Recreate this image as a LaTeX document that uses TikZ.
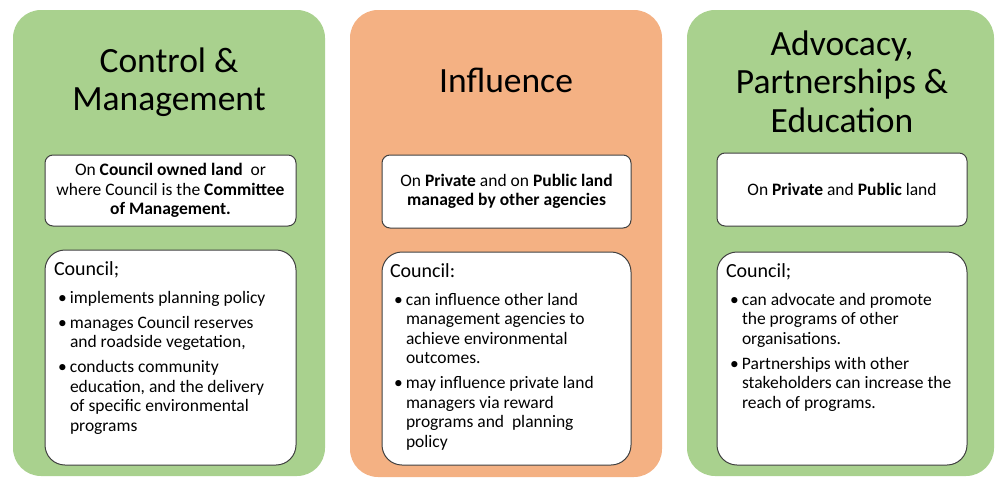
\documentclass[tikz,border=0pt]{standalone}
\usepackage{fontspec}
\setmainfont{Carlito}
\definecolor{panelgreen}{HTML}{A9D18E}
\definecolor{panelorange}{HTML}{F4B183}
\definecolor{boxline}{HTML}{404040}
\newcommand\bitem[1]{\par\vspace{5.5pt}\hangindent=16pt\hangafter=1\noindent\hspace*{4pt}\makebox[12pt][l]{\textbullet}#1}
\newcommand\councillist[2]{\vtop{\hsize=235pt\raggedright\parindent=0pt\fontsize{17.5}{19.5}\selectfont
{\fontsize{20}{19.5}\selectfont #1}\par\vspace{3pt}#2}}
\newcommand\titletext[1]{\vtop{\hsize=300pt\centering\fontsize{35.5}{38.5}\selectfont #1\par}}
\begin{document}
\begin{tikzpicture}[x=1pt,y=-1pt,
  panel/.style={rounded corners=28pt, inner sep=0pt, outer sep=0pt, anchor=north west, draw=none},
  hdrbox/.style={rounded corners=8pt, draw=boxline, line width=1pt, fill=white, inner sep=0pt, outer sep=0pt,
     align=center, font=\fontsize{17.5}{19.5}\selectfont},
  cbox/.style={rounded corners=20pt, draw=boxline, line width=1pt, fill=white, inner sep=0pt, outer sep=0pt, anchor=north west},
  txt/.style={inner sep=0pt, outer sep=0pt, anchor=base west},
  ttl/.style={inner sep=0pt, outer sep=0pt, anchor=base}
]
\useasboundingbox (0,0) rectangle (995,479);
% panels
\node[panel, fill=panelgreen, minimum width=312pt, minimum height=466pt] (p1) at (13,10) {};
\node[panel, fill=panelorange, minimum width=312pt, minimum height=467pt] (p2) at (350,10) {};
\node[panel, fill=panelgreen, minimum width=307pt, minimum height=466pt] (p3) at (687,10) {};
% titles
\node[ttl] (t1) at (169,72) {\titletext{Control \&\par Management}};
\node[ttl] (t2) at (506,92) {\titletext{Influence}};
\node[ttl] (t3) at (842,55) {\titletext{Advocacy,\par Partnerships \&\par Education}};
% header boxes
\node[hdrbox, minimum width=251pt, minimum height=71pt] (h1) at (170.5,190.5)
  {On \textbf{Council owned land}~ or\\ where Council is the \textbf{Committee}\\ \textbf{of Management.}};
\node[hdrbox, minimum width=249pt, minimum height=73pt] (h2) at (506.5,191.5)
  {On \textbf{Private} and on \textbf{Public land}\\ \textbf{managed by other agencies}};
\node[hdrbox, minimum width=250pt, minimum height=73pt] (h3) at (842,189.5)
  {On \textbf{Private} and \textbf{Public} land};
% council boxes
\node[cbox, minimum width=251pt, minimum height=215pt] (c1) at (45,250) {};
\node[cbox, minimum width=249pt, minimum height=213pt] (c2) at (382,252) {};
\node[cbox, minimum width=250pt, minimum height=213pt] (c3) at (717,252) {};
% council texts
\node[txt] (l1) at (54,275) {\councillist{Council;}{%
\bitem{implements planning policy}
\bitem{manages Council reserves\newline and roadside vegetation,}
\bitem{conducts community\newline education, and the delivery\newline of specific environmental\newline programs}}};
\node[txt] (l2) at (390,277) {\councillist{Council:}{%
\bitem{can influence other land\newline management agencies to\newline achieve environmental\newline outcomes.}
\bitem{may influence private land\newline managers via reward\newline programs and~ planning\newline policy}}};
\node[txt] (l3) at (726,277) {\councillist{Council;}{%
\bitem{can advocate and promote\newline the programs of other\newline organisations.}
\bitem{Partnerships with other\newline stakeholders can increase the\newline reach of programs.}}};
\end{tikzpicture}
\end{document}
